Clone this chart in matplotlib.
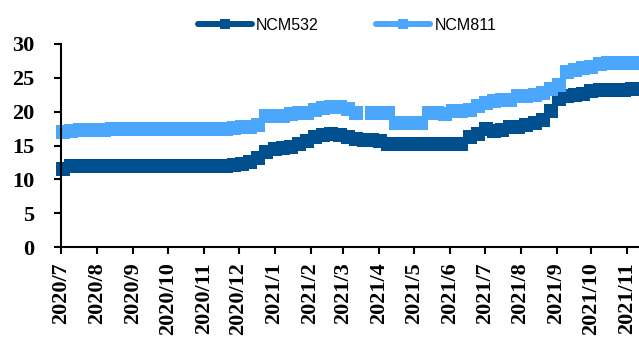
import numpy as np
import pandas as pd
import matplotlib
matplotlib.use("Agg")
import matplotlib.pyplot as plt
from matplotlib.lines import Line2D

# Weekly price series (10k yuan / t), Fridays from 2020-07-03
week_dates = pd.date_range("2020-07-03", periods=72, freq="7D")

ncm532 = [
    11.6, 11.9, 12.0, 12.0, 12.0, 12.0, 12.0, 12.0, 12.0, 12.0,
    12.0, 12.0, 12.0, 12.0, 12.0, 12.0, 12.0, 12.0, 12.0, 12.0,
    12.0, 12.1, 12.3, 12.6, 13.2, 14.0, 14.5, 14.7, 14.8, 15.2,
    15.7, 16.3, 16.6, 16.7, 16.6, 16.2, 15.9, 15.8, 15.8, 15.7,
    15.2, 15.2, 15.2, 15.2, 15.2, 15.2, 15.2, 15.2, 15.2, 15.2,
    16.3, 16.7, 17.4, 17.2, 17.3, 17.7, 17.7, 18.0, 18.3, 18.8,
    20.1, 21.8, 22.3, 22.4, 22.6, 23.0, 23.2, 23.2, 23.2, 23.2,
    23.3, 23.3,
]

ncm811 = [
    17.0, 17.2, 17.3, 17.3, 17.3, 17.3, 17.4, 17.5, 17.5, 17.5,
    17.5, 17.5, 17.5, 17.5, 17.5, 17.5, 17.5, 17.5, 17.5, 17.5,
    17.5, 17.6, 17.7, 17.7, 18.0, 19.3, 19.4, 19.4, 19.6, 19.8,
    19.8, 20.2, 20.6, 20.7, 20.7, 20.4, 19.8, np.nan, 19.8, 19.8,
    19.8, 18.3, 18.3, 18.3, 18.3, 19.8, 19.8, 19.6, 20.1, 20.1,
    20.2, 20.8, 21.3, 21.6, 21.7, 21.7, 22.3, 22.3, 22.4, 22.8,
    23.3, 23.9, 25.8, 26.1, 26.4, 26.6, 27.0, 27.2, 27.2, 27.2,
    27.2, 27.2,
]

series_names = ["NCM532", "NCM811"]
series_colors = ["#00508F", "#4BA7FB"]

y_ticks = [0, 5, 10, 15, 20, 25, 30]
month_ticks = pd.date_range("2020-07-01", "2021-11-01", freq="MS")
month_labels = [f"{d.year}/{d.month}" for d in month_ticks]

fig = plt.figure(figsize=(6.39, 3.38), dpi=100)
ax = fig.add_axes([0.0955, 0.269, 0.9045, 0.601])

for values, color in zip([ncm532, ncm811], series_colors):
    ax.plot(week_dates, values, color=color, lw=4.3, marker="s",
            markersize=10, markeredgewidth=0, solid_capstyle="butt",
            clip_on=False, zorder=3)

ax.set_xlim(pd.Timestamp("2020-07-01"), pd.Timestamp("2021-11-11"))
ax.set_ylim(0, 30)

ax.set_yticks(y_ticks)
ax.set_yticklabels([str(v) for v in y_ticks])
ax.set_xticks(month_ticks)
ax.set_xticklabels(month_labels, rotation=90, ha="center", va="top")

for lab in ax.get_yticklabels() + ax.get_xticklabels():
    lab.set_fontfamily("Liberation Serif")
    lab.set_fontweight("bold")
    lab.set_fontsize(16)

ax.tick_params(axis="y", direction="out", length=5, width=1.5, pad=14)
ax.tick_params(axis="x", direction="out", length=5, width=1.5, pad=6)

for side in ["top", "right"]:
    ax.spines[side].set_visible(False)
for side in ["left", "bottom"]:
    ax.spines[side].set_linewidth(1.5)
    ax.spines[side].set_color("black")
    ax.spines[side].set_zorder(4)

handles = [Line2D([], [], color=c, lw=4.3, marker="s", markersize=6.5,
                  markeredgewidth=0, solid_capstyle="round")
           for c in series_colors]
fig.legend(handles, series_names, loc="center", ncol=2,
           bbox_to_anchor=(0.543, 0.925), frameon=False,
           prop=dict(family="Liberation Sans", size=11.5),
           handlelength=3.4, handletextpad=0.25, columnspacing=3.6)

fig.savefig("out.png", dpi=100)
